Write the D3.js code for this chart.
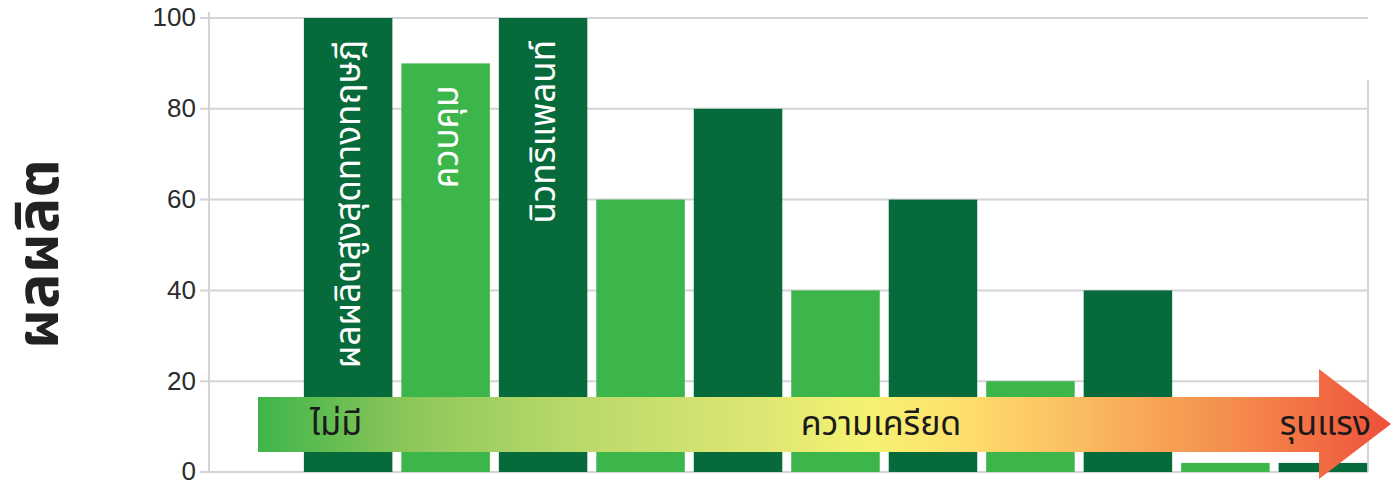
<!DOCTYPE html>
<html>
<head>
<meta charset="utf-8">
<script src="https://cdn.jsdelivr.net/npm/d3@7"></script>
<style>
  body { margin: 0; background: #fff; }
</style>
</head>
<body>
<div id="chart"></div>
<script>
var categories = ["1", "2", "3", "4", "5", "6", "7", "8", "9", "10", "11"];
var values = [100, 90, 100, 60, 80, 40, 60, 20, 40, 2, 2];
var barLabels = ["ผลผลิตสูงสุดทางทฤษฎี", "ควบคุม", "นิวทริแพลนท์", "", "", "", "", "", "", "", ""];
var yTicks = [0, 20, 40, 60, 80, 100];
var yTitle = "ผลผลิต";
var arrowLabels = ["ไม่มี", "ความเครียด", "รุนแรง"];

var svgWidth = 1391;
var svgHeight = 483;
var thaiFont = "'Noto Sans Thai', 'Noto Sans', 'DejaVu Sans', sans-serif";

var svg = d3
  .select("#chart")
  .append("svg")
  .attr("width", svgWidth)
  .attr("height", svgHeight);

// scales
var xScale = d3
  .scaleBand()
  .domain(categories)
  .range([299, 1372])
  .paddingInner(0.092)
  .paddingOuter(0.05);

var yScale = d3.scaleLinear().domain([0, 100]).range([472, 18]);

var plotLeft = 209;
var plotRight = 1368;

// gridlines
svg
  .append("g")
  .selectAll("line")
  .data(yTicks)
  .enter()
  .append("line")
  .attr("x1", 200)
  .attr("x2", plotRight)
  .attr("y1", (d) => yScale(d))
  .attr("y2", (d) => yScale(d))
  .attr("stroke", "#d4d4d8")
  .attr("stroke-width", 2);

// left axis line and right border
svg
  .append("line")
  .attr("x1", plotLeft)
  .attr("x2", plotLeft)
  .attr("y1", 12)
  .attr("y2", yScale(0))
  .attr("stroke", "#d4d4d8")
  .attr("stroke-width", 2);
svg
  .append("line")
  .attr("x1", plotRight)
  .attr("x2", plotRight)
  .attr("y1", 80)
  .attr("y2", yScale(0))
  .attr("stroke", "#d4d4d8")
  .attr("stroke-width", 2);

// tick labels
var leftAxis = d3.axisLeft(yScale).tickValues(yTicks).tickSize(0).tickPadding(13);
var axisG = svg.append("g").attr("transform", "translate(" + plotLeft + ",0)").call(leftAxis);
axisG.select(".domain").remove();
axisG
  .selectAll("text")
  .attr("dy", "0.3em")
  .style("font-family", "'Liberation Sans', Arial, sans-serif")
  .style("font-size", "26px")
  .attr("fill", "#2b2b2b");

// y title
svg
  .append("text")
  .text(yTitle)
  .attr("transform", "translate(37,254) rotate(-90)")
  .attr("dy", "0.35em")
  .style("text-anchor", "middle")
  .style("font-family", thaiFont)
  .style("font-weight", "bold")
  .style("font-size", "59px")
  .attr("fill", "#222");

// bars
svg
  .append("g")
  .selectAll("rect")
  .data(values)
  .enter()
  .append("rect")
  .attr("x", (d, i) => xScale(categories[i]))
  .attr("y", (d) => yScale(d))
  .attr("width", xScale.bandwidth())
  .attr("height", (d) => yScale(0) - yScale(d))
  .attr("fill", (d, i) => (i % 2 === 0 ? "#076a3a" : "#3cb54a"));

// labels inside bars
svg
  .append("g")
  .selectAll("text")
  .data(barLabels)
  .enter()
  .append("text")
  .text((d) => d)
  .attr("transform", (d, i) => {
    var cx = xScale(categories[i]) + xScale.bandwidth() / 2;
    var cy = yScale(values[i]) + 22;
    return "translate(" + cx + "," + cy + ") rotate(-90)";
  })
  .attr("dy", "0.35em")
  .style("text-anchor", "end")
  .style("font-family", thaiFont)
  .style("font-size", "35px")
  .attr("fill", "#fff");

// stress arrow
var defs = svg.append("defs");
var grad = defs
  .append("linearGradient")
  .attr("id", "stressGrad")
  .attr("gradientUnits", "userSpaceOnUse")
  .attr("x1", 258)
  .attr("x2", 1391)
  .attr("y1", 0)
  .attr("y2", 0);
var stops = [
  [0, "#3db54a"],
  [0.13, "#8cc65a"],
  [0.27, "#b6d86a"],
  [0.44, "#dde673"],
  [0.54, "#f5f272"],
  [0.62, "#fde06c"],
  [0.72, "#fbbd62"],
  [0.84, "#f5944f"],
  [0.94, "#f26b43"],
  [1, "#ee4f3a"]
];
stops.forEach(function (s) {
  grad.append("stop").attr("offset", s[0]).attr("stop-color", s[1]);
});

var bodyTop = 397;
var bodyBottom = 452;
var headX = 1319;
var arrowPath = d3.path();
arrowPath.moveTo(258, bodyTop);
arrowPath.lineTo(headX, bodyTop);
arrowPath.lineTo(headX, 369);
arrowPath.lineTo(1391, 424);
arrowPath.lineTo(headX, 479);
arrowPath.lineTo(headX, bodyBottom);
arrowPath.lineTo(258, bodyBottom);
arrowPath.closePath();

svg.append("path").attr("d", arrowPath.toString()).attr("fill", "url(#stressGrad)");

var arrowTextPos = [
  { x: 336, anchor: "middle" },
  { x: 881, anchor: "middle" },
  { x: 1371, anchor: "end" }
];
svg
  .append("g")
  .selectAll("text")
  .data(arrowLabels)
  .enter()
  .append("text")
  .text((d) => d)
  .attr("x", (d, i) => arrowTextPos[i].x)
  .attr("y", 435)
  .style("text-anchor", (d, i) => arrowTextPos[i].anchor)
  .style("font-family", thaiFont)
  .style("font-size", "34px")
  .attr("fill", "#1a1a1a");
</script>
</body>
</html>
